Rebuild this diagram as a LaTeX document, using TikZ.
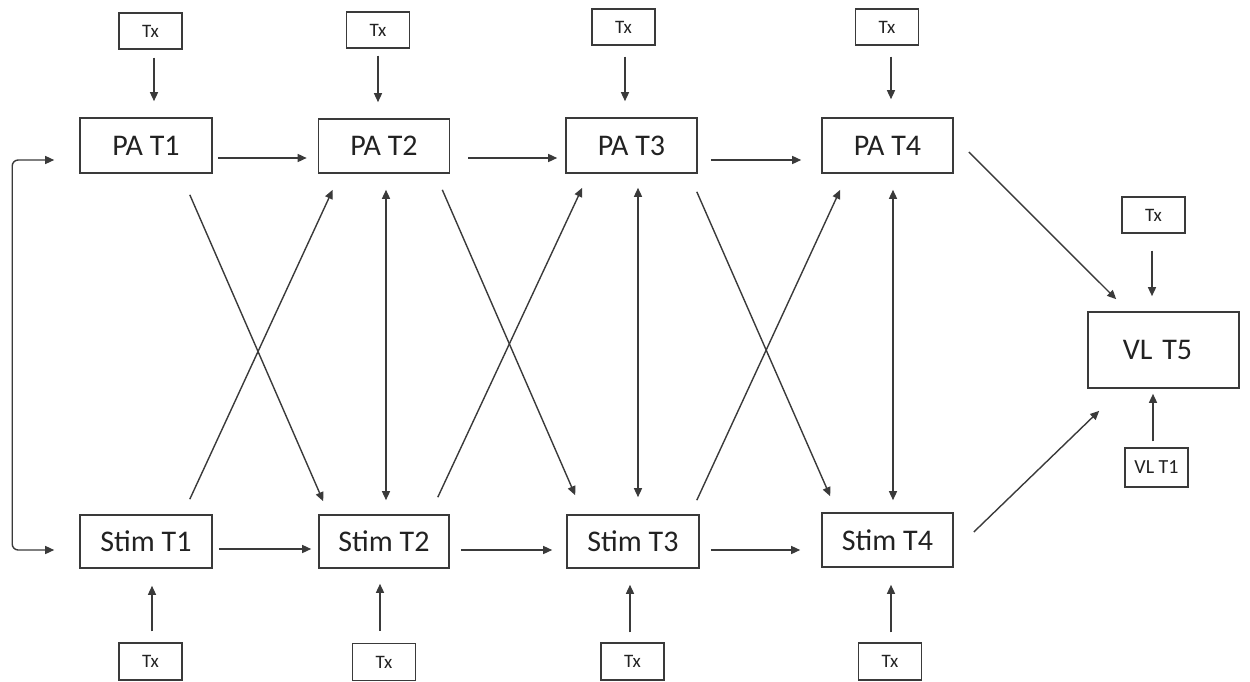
\documentclass[tikz,border=0pt]{standalone}
\usepackage{fontspec}
\setmainfont{Carlito}
\usetikzlibrary{arrows.meta,calc}
\definecolor{ln}{HTML}{3A3A3A}
\definecolor{tx}{HTML}{222222}
\tikzset{
  box/.style={draw=ln, line width=1.6pt, text=tx, inner sep=0pt, font=\fontsize{30}{32}\selectfont},
  small/.style={draw=ln, line width=1.4pt, text=tx, inner sep=0pt, minimum width=63pt, minimum height=36pt, font=\fontsize{19}{20}\selectfont},
  arr/.style={draw=ln, line width=1.4pt, -{Triangle[length=9pt,width=8pt]}},
  arrb/.style={draw=ln, line width=1.4pt, {Triangle[length=9pt,width=8pt]}-{Triangle[length=9pt,width=8pt]}}
}
\begin{document}
\begin{tikzpicture}[x=1pt,y=-1pt]
\useasboundingbox (0,0) rectangle (1250,682);
% top Tx
\node[small] (tx1) at (150.5,31) {Tx};
\node[small] (tx2) at (378,30) {Tx};
\node[small] (tx3) at (623.5,27) {Tx};
\node[small] (tx4) at (887,27) {Tx};
% PA row
\node[box, minimum width=132pt, minimum height=55pt] (pa1) at (146,145.5) {PA T1};
\node[box, minimum width=131pt, minimum height=54pt] (pa2) at (384,146) {PA T2};
\node[box, minimum width=131pt, minimum height=55pt] (pa3) at (631.5,145.5) {PA T3};
\node[box, minimum width=131pt, minimum height=55pt] (pa4) at (887.5,145.5) {PA T4};
% Stim row
\node[box, minimum width=132pt, minimum height=53pt] (st1) at (146,541.5) {Stim T1};
\node[box, minimum width=130pt, minimum height=53pt] (st2) at (384,541.5) {Stim T2};
\node[box, minimum width=132pt, minimum height=53pt] (st3) at (633,541.5) {Stim T3};
\node[box, minimum width=131pt, minimum height=54pt] (st4) at (887.5,540) {Stim T4};
% bottom Tx
\node[small, minimum height=37pt] (bx1) at (150.5,661.5) {Tx};
\node[small, minimum height=37pt] (bx2) at (384,662) {Tx};
\node[small, minimum height=37pt] (bx3) at (632.5,661.5) {Tx};
\node[small, minimum height=37pt] (bx4) at (890,661.5) {Tx};
% right side
\node[small] (txr) at (1153.5,215) {Tx};
\node[box, minimum width=151pt, minimum height=76pt, text width=151pt, align=center] (vl5) at (1163.5,350) {\hspace*{-12pt}VL T5};
\node[small, minimum height=39pt, font=\fontsize{20}{21}\selectfont] (vl1) at (1156.5,467.5) {VL T1};

% Tx -> PA
\draw[arr] ($(tx1.south)+(3.5,8)$) -- ($(pa1.north)+(8,-16)$);
\draw[arr] ($(tx2.south)+(0,7)$) -- ($(pa2.north)+(-6,-16)$);
\draw[arr] ($(tx3.south)+(1.5,11)$) -- ($(pa3.north)+(-6.5,-16)$);
\draw[arr] ($(tx4.south)+(4,11)$) -- ($(pa4.north)+(3.5,-18)$);
% Tx -> Stim
\draw[arr] ($(bx1.north)+(1.5,-11)$) -- ($(st1.south)+(6,17)$);
\draw[arr] ($(bx2.north)+(-4,-12)$) -- ($(st2.south)+(-4,15)$);
\draw[arr] ($(bx3.north)+(-2.5,-10)$) -- ($(st3.south)+(-3,16)$);
\draw[arr] ($(bx4.north)+(1,-10)$) -- ($(st4.south)+(3.5,17)$);
% PA horizontal
\draw[arr] ($(pa1.east)+(5,12.5)$) -- ($(pa2.west)+(-11,12)$);
\draw[arr] ($(pa2.east)+(18,12)$) -- ($(pa3.west)+(-8,12.5)$);
\draw[arr] ($(pa3.east)+(13,14.5)$) -- ($(pa4.west)+(-20,14.5)$);
% Stim horizontal
\draw[arr] ($(st1.east)+(6,7.5)$) -- ($(st2.west)+(-7,7.5)$);
\draw[arr] ($(st2.east)+(11,8.5)$) -- ($(st3.west)+(-14,8.5)$);
\draw[arr] ($(st3.east)+(11,8.5)$) -- ($(st4.west)+(-21,10)$);
% cross lags PA -> Stim
\draw[arr] ($(pa1.south east)+(-23,21)$) -- ($(st2.north west)+(5,-13)$);
\draw[arr] ($(pa2.south east)+(-8,16)$) -- ($(st3.north west)+(9,-19)$);
\draw[arr] ($(pa3.south east)+(-1,18)$) -- ($(st4.north west)+(9,-16)$);
% cross lags Stim -> PA
\draw[arr] ($(st1.north east)+(-23,-15)$) -- ($(pa2.south west)+(15,16)$);
\draw[arr] ($(st2.north east)+(-12,-17)$) -- ($(pa3.south west)+(17,14)$);
\draw[arr] ($(st3.north east)+(-3,-14)$) -- ($(pa4.south west)+(19,16)$);
% within-time double arrows
\draw[arrb] ($(pa2.south)+(2,16)$) -- ($(st2.north)+(2,-14)$);
\draw[arrb] ($(pa3.south)+(6.5,14)$) -- ($(st3.north)+(5,-17)$);
\draw[arrb] ($(pa4.south)+(5.5,16)$) -- ($(st4.north)+(5.5,-12)$);
% left loop
\draw[arrb, rounded corners=6pt] ($(pa1.west)+(-25,14.5)$) -- ++(-42,0) |- ($(st1.west)+(-25,8.5)$);
% to VL T5
\draw[arr] ($(pa4.east)+(15,6.5)$) -- ($(vl5.north west)+(29,-12)$);
\draw[arr] ($(st4.east)+(20,-8)$) -- ($(vl5.south west)+(12,22)$);
\draw[arr] ($(txr.south)+(-1.5,17)$) -- ($(vl5.north)+(-11.5,-15)$);
\draw[arr] ($(vl1.north)+(-3.5,-6)$) -- ($(vl5.south)+(-10.5,5)$);
\end{tikzpicture}
\end{document}
